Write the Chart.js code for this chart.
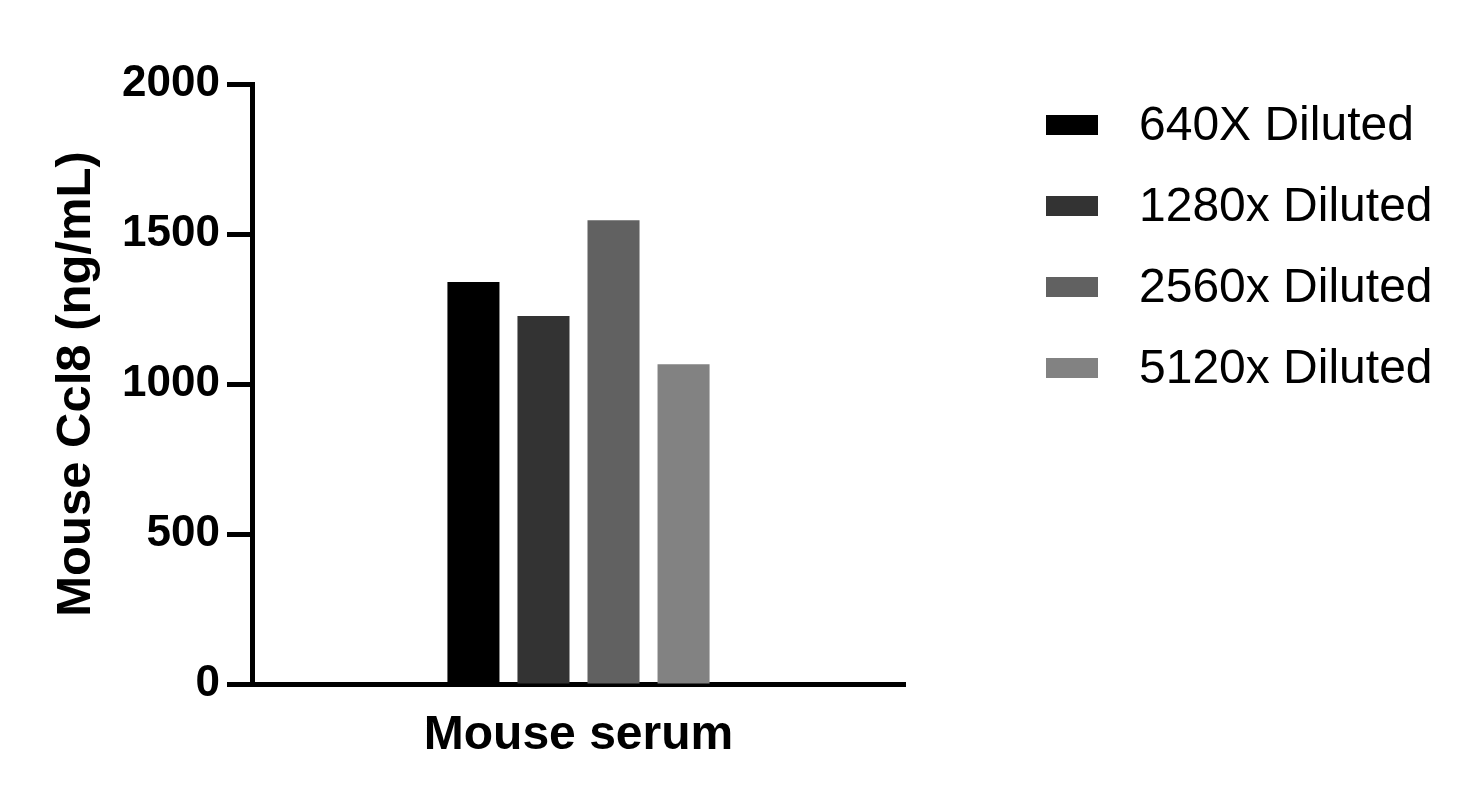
<!DOCTYPE html>
<html>
<head>
<meta charset="utf-8">
<style>
  html, body { margin: 0; padding: 0; background: #fff; }
  #wrap { width: 1476px; height: 804px; }
</style>
<script src="https://cdn.jsdelivr.net/npm/chart.js@4.4.1/dist/chart.umd.min.js"></script>
</head>
<body>
<div id="wrap"><canvas id="chart"></canvas></div>
<script>
  const categories = ["Mouse serum"];
  const seriesNames = ["640X Diluted", "1280x Diluted", "2560x Diluted", "5120x Diluted"];
  const seriesValues = [[1340], [1227], [1546], [1066]];
  const seriesColors = ["#000000", "#333333", "#616161", "#828282"];
  const yTicks = [0, 500, 1000, 1500, 2000];

  const FONT = "'Liberation Sans', Arial, sans-serif";

  // legend drawn to the right of the plot, from the datasets themselves
  const sideLegend = {
    id: "sideLegend",
    afterDraw(chart) {
      const ctx = chart.ctx;
      ctx.save();
      ctx.font = "48px " + FONT;
      ctx.textBaseline = "middle";
      ctx.textAlign = "left";
      chart.data.datasets.forEach(function (ds, i) {
        const cy = 125 + i * 81;
        ctx.fillStyle = ds.backgroundColor;
        ctx.fillRect(1046, cy - 10, 52, 20);
        ctx.fillStyle = "#000";
        ctx.fillText(ds.label, 1139, cy + 2);
      });
      ctx.restore();
    }
  };

  new Chart(document.getElementById("chart"), {
    type: "bar",
    data: {
      labels: categories,
      datasets: seriesNames.map(function (name, i) {
        return {
          label: name,
          data: seriesValues[i],
          backgroundColor: seriesColors[i],
          categoryPercentage: 0.429,
          barPercentage: 0.743
        };
      })
    },
    options: {
      responsive: true,
      maintainAspectRatio: false,
      animation: false,
      layout: { padding: { top: 84, right: 571, bottom: 0, left: 0 } },
      plugins: { legend: { display: false }, tooltip: { enabled: false } },
      scales: {
        x: {
          grid: { display: false },
          border: { display: true, color: "#000", width: 5 },
          ticks: { color: "#000", font: { family: FONT, size: 48, weight: "bold" }, padding: 15 },
          afterFit(scale) { scale.height = 120; }
        },
        y: {
          min: 0,
          max: 2000,
          afterBuildTicks(scale) { scale.ticks = yTicks.map((v) => ({ value: v })); },
          grid: { drawOnChartArea: false, drawTicks: true, tickLength: 25, tickWidth: 5, tickColor: "#000" },
          border: { display: true, color: "#000", width: 5 },
          ticks: {
            color: "#000",
            font: { family: FONT, size: 44, weight: "bold" },
            padding: 7,
            callback: (v) => String(v)
          },
          title: {
            display: true,
            text: "Mouse Ccl8 (ng/mL)",
            color: "#000",
            font: { family: FONT, size: 49, weight: "bold" },
            padding: { top: 47, bottom: 0 }
          },
          afterFit(scale) { scale.width = 252; }
        }
      }
    },
    plugins: [sideLegend]
  });
</script>
</body>
</html>
